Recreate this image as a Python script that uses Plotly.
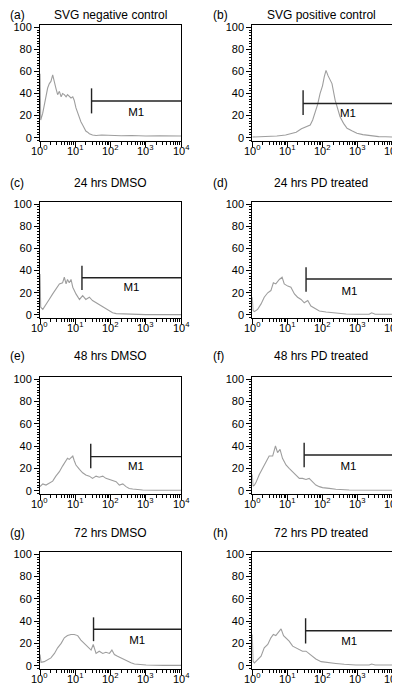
import math
import plotly.graph_objects as go

# ---------------- data (x in log10 fluorescence channel, y = counts) ----------------
panel_letters = ["(a)", "(b)", "(c)", "(d)", "(e)", "(f)", "(g)", "(h)"]
panel_titles = ["SVG negative control", "SVG positive control",
                "24 hrs DMSO", "24 hrs PD treated",
                "48 hrs DMSO", "48 hrs PD treated",
                "72 hrs DMSO", "72 hrs PD treated"]

a_logx = [0.0, 0.02, 0.076, 0.123, 0.17, 0.217, 0.265, 0.31, 0.36, 0.41, 0.45, 0.50, 0.55, 0.60, 0.64, 0.69,
          0.74, 0.78, 0.83, 0.88, 0.93, 0.97, 1.02, 1.07, 1.12, 1.16, 1.21, 1.26, 1.30, 1.35, 1.40, 1.49,
          1.59, 1.75, 2.0, 2.3, 2.6, 3.0, 3.4, 3.8, 4.0]
a_counts = [58, 16, 22, 30, 39, 45, 49, 51, 57, 49, 45, 39, 42, 37, 40, 39, 37, 39, 37, 36, 37, 34, 27, 22,
            18, 14.5, 11.5, 8.5, 6, 5, 3.6, 2.4, 2, 2.4, 2, 1.8, 2, 1.5, 1.8, 1.5, 1.5]

b_logx = [0.0, 0.3, 0.5, 0.7, 0.95, 1.1, 1.25, 1.4, 1.52, 1.65, 1.72, 1.79, 1.86, 1.93, 2.0, 2.05, 2.1, 2.16,
          2.22, 2.27, 2.36, 2.43, 2.5, 2.6, 2.7, 2.85, 2.98, 3.15, 3.35, 3.6, 3.8, 4.0]
b_counts = [0.6, 0.8, 1, 1.5, 2.4, 3.5, 5, 8, 10, 11.5, 16, 23, 30, 40, 47, 55, 61, 56, 52, 49, 34, 26, 19,
            13, 8.5, 6, 4, 2.8, 1.8, 1.0, 0.8, 0.6]

c_logx = [0.0, 0.02, 0.08, 0.17, 0.26, 0.36, 0.45, 0.55, 0.64, 0.69, 0.74, 0.78, 0.83, 0.88, 0.93, 0.97, 1.02,
          1.12, 1.21, 1.30, 1.40, 1.49, 1.59, 1.68, 1.78, 1.87, 1.97, 2.06, 2.16, 2.35, 2.53, 2.72, 3.0, 3.5, 4.0]
c_counts = [37, 7, 5, 10, 14, 19, 23, 28, 29, 34, 28, 32, 29, 32, 25, 22, 19, 14, 17.5, 14, 16, 13, 11, 10,
            7.5, 6, 3.6, 2, 1.2, 0.9, 0.6, 0.6, 0.3, 0.3, 0.3]

d_logx = [0.0, 0.02, 0.06, 0.15, 0.25, 0.34, 0.44, 0.53, 0.60, 0.67, 0.77, 0.85, 0.91, 1.01, 1.10, 1.20, 1.29,
          1.39, 1.48, 1.58, 1.67, 1.77, 1.91, 2.10, 2.29, 2.48, 2.67, 3.0, 3.33, 3.4, 3.5, 4.0]
d_counts = [16, 4, 3, 5, 10, 16, 20, 22, 29, 28, 32, 34, 28, 26, 25, 19, 16, 14, 11, 13, 8, 6, 3.6, 2.7, 2,
            1.8, 0.9, 0.6, 0.6, 2, 0.6, 0.6]

e_logx = [0.0, 0.08, 0.17, 0.26, 0.36, 0.45, 0.55, 0.64, 0.74, 0.78, 0.83, 0.93, 0.97, 1.02, 1.12, 1.21, 1.30,
          1.40, 1.49, 1.59, 1.68, 1.78, 1.87, 1.97, 2.06, 2.16, 2.25, 2.35, 2.44, 2.53, 2.63, 2.72, 2.91, 3.3, 4.0]
e_counts = [3.6, 6, 5, 7, 8.5, 13, 17, 22, 28, 29, 28, 31, 27, 23, 19, 16, 14, 13, 11, 13, 12, 13, 11, 10, 9,
            8, 5, 6, 3.6, 2, 1.5, 1.2, 0.6, 0.3, 0.3]

f_logx = [0.0, 0.02, 0.06, 0.10, 0.20, 0.29, 0.39, 0.48, 0.58, 0.66, 0.72, 0.79, 0.86, 0.96, 1.05, 1.15, 1.24,
          1.34, 1.43, 1.53, 1.62, 1.72, 1.81, 1.91, 2.00, 2.19, 2.38, 2.76, 3.2, 4.0]
f_counts = [14.5, 4, 5, 7, 14.5, 20, 26, 31, 31, 40, 34, 37, 29, 23, 20, 17, 14.5, 11, 11, 10, 11, 8, 5, 3.6,
            2.7, 2, 1.2, 0.6, 0.3, 0.3]

g_logx = [0.0, 0.03, 0.12, 0.22, 0.31, 0.41, 0.50, 0.60, 0.69, 0.78, 0.88, 0.97, 1.07, 1.16, 1.26, 1.35, 1.45,
          1.51, 1.59, 1.68, 1.78, 1.87, 1.97, 2.04, 2.11, 2.20, 2.30, 2.39, 2.49, 2.58, 2.68, 2.82, 3.01, 3.5, 4.0]
g_counts = [10, 3, 3.6, 5, 7, 11, 16, 20, 25, 27, 28, 28, 27, 23, 20, 17, 14, 19, 11, 13, 11, 12, 11, 14, 10,
            8.5, 7, 5, 3.6, 2.7, 1.5, 0.9, 0.6, 0.3, 0.3]

h_logx = [0.0, 0.02, 0.06, 0.15, 0.25, 0.34, 0.44, 0.53, 0.60, 0.67, 0.75, 0.82, 0.89, 0.96, 1.05, 1.15, 1.24,
          1.34, 1.43, 1.53, 1.62, 1.72, 1.81, 1.96, 2.15, 2.38, 2.62, 2.95, 3.33, 3.4, 3.5, 4.0]
h_counts = [28, 4, 2.4, 5, 8.5, 16, 19, 25, 28, 27, 30, 33, 27, 25, 22, 17.5, 16, 14.5, 13, 13, 11, 8, 6, 3.6,
            2.7, 2, 1.2, 0.6, 0.6, 1.5, 0.6, 0.6]

hist_logx = [a_logx, b_logx, c_logx, d_logx, e_logx, f_logx, g_logx, h_logx]
hist_counts = [a_counts, b_counts, c_counts, d_counts, e_counts, f_counts, g_counts, h_counts]

# M1 marker: gate start (channel), vertical bar low/high, horizontal level, label level
m1_start = [29, 28, 15.5, 34, 27.5, 30, 33, 33]
m1_end = [10000] * 8
m1_bar_low = [22, 20.5, 22.5, 21, 20, 21, 22, 20]
m1_bar_high = [44.7, 43, 44.4, 43, 42, 43, 43.4, 42.5]
m1_level = [33.2, 31, 33.6, 32.4, 30.5, 32, 32.7, 31.4]
m1_label_y = [22.6, 21, 24, 20.5, 21, 21.5, 22, 21]

x_tick_vals = [1, 10, 100, 1000, 10000]
x_tick_text = ["10<sup>0</sup>", "10<sup>1</sup>", "10<sup>2</sup>", "10<sup>3</sup>", "10<sup>4</sup>"]
y_tick_vals = [0, 20, 40, 60, 80, 100]

# ---------------- layout geometry ----------------
# The page body keeps its default 8px margin, so the figure is 8px smaller than the
# window and all pixel positions below are given relative to the figure's own corner.
W, H = 392, 679
FONT = "Liberation Sans, Arial, Helvetica, sans-serif"
col_px = [(32.0, 173.0), (244.3, 384.7)]
row_px = [(17.1, 133.0), (193.8, 310.3), (368.8, 486.0), (544.1, 661.0)]
title_y_px = [7.5, 175, 348, 525]
title_cx_px = [102, 313]
letter_x_px = [0, 203]
xlabel_gap_px = 9

minor_x = [m * 10 ** k for k in range(4) for m in range(2, 10)]

fig = go.Figure()
layout = dict(
    width=W, height=H, margin=dict(l=0, r=0, t=0, b=0),
    paper_bgcolor="white", plot_bgcolor="white", showlegend=False,
    font=dict(family=FONT, color="black", size=11),
    annotations=[],
)

for i in range(8):
    r, c = divmod(i, 2)
    n = i + 1
    xs = "x" if n == 1 else f"x{n}"
    ys = "y" if n == 1 else f"y{n}"
    xk = "xaxis" if n == 1 else f"xaxis{n}"
    yk = "yaxis" if n == 1 else f"yaxis{n}"
    x0, x1 = col_px[c]
    top, bot = row_px[r]
    layout[xk] = dict(
        type="log", range=[0, 4], domain=[x0 / W, x1 / W], anchor=ys,
        showline=True, linecolor="black", linewidth=1, mirror=True,
        ticks="outside", ticklen=5, tickwidth=1, tickcolor="black",
        tickmode="array", tickvals=x_tick_vals, showticklabels=False,
        minor=dict(tickmode="array", tickvals=minor_x, ticks="outside", ticklen=3,
                   tickwidth=1, tickcolor="black", showgrid=False),
        showgrid=False, zeroline=False, automargin=False,
    )
    layout[yk] = dict(
        range=[-3, 102], domain=[1 - bot / H, 1 - top / H], anchor=xs,
        showline=True, linecolor="black", linewidth=1, mirror=True,
        ticks="outside", ticklen=5, tickwidth=1, tickcolor="black",
        tickmode="array", tickvals=y_tick_vals,
        minor=dict(tickmode="linear", tick0=0, dtick=2.5, ticks="outside", ticklen=2.5,
                   tickwidth=1, tickcolor="black", showgrid=False),
        showgrid=False, zeroline=False, automargin=False,
        tickfont=dict(family=FONT, size=11, color="black"),
    )

    # x tick labels (10^n), placed on the x axis scale just below the axis line
    for tv, tt in zip(x_tick_vals, x_tick_text):
        layout["annotations"].append(dict(
            text=tt, xref=xs, yref="paper", x=math.log10(tv), y=1 - (bot + xlabel_gap_px) / H,
            xanchor="center", yanchor="middle", showarrow=False,
            font=dict(family=FONT, size=11, color="black")))

    # histogram
    fig.add_trace(go.Scatter(
        x=[10 ** v for v in hist_logx[i]], y=hist_counts[i], mode="lines",
        line=dict(color="#9e9e9e", width=1.1), xaxis=xs, yaxis=ys, hoverinfo="skip"))
    # M1 gate bar
    fig.add_trace(go.Scatter(
        x=[m1_start[i], m1_start[i]], y=[m1_bar_low[i], m1_bar_high[i]], mode="lines",
        line=dict(color="#222222", width=1.4), xaxis=xs, yaxis=ys, hoverinfo="skip"))
    fig.add_trace(go.Scatter(
        x=[m1_start[i], m1_end[i]], y=[m1_level[i], m1_level[i]], mode="lines",
        line=dict(color="#222222", width=1.4), xaxis=xs, yaxis=ys, hoverinfo="skip"))
    mid = (m1_start[i] * m1_end[i]) ** 0.5
    fig.add_trace(go.Scatter(
        x=[mid], y=[m1_label_y[i]], mode="text", text=["M1"],
        textfont=dict(family=FONT, size=11.5, color="black"), textposition="middle center",
        xaxis=xs, yaxis=ys, hoverinfo="skip", cliponaxis=False))

    # titles
    ty = 1 - title_y_px[r] / H
    layout["annotations"].append(dict(
        text=panel_titles[i], xref="paper", yref="paper", x=title_cx_px[c] / W, y=ty,
        xanchor="center", yanchor="middle", showarrow=False,
        font=dict(family=FONT, size=12, color="black")))
    layout["annotations"].append(dict(
        text=panel_letters[i], xref="paper", yref="paper", x=letter_x_px[c] / W, y=ty,
        xanchor="left", yanchor="middle", showarrow=False,
        font=dict(family=FONT, size=12, color="black")))

fig.update_layout(**layout)
fig.write_html("out.html")
